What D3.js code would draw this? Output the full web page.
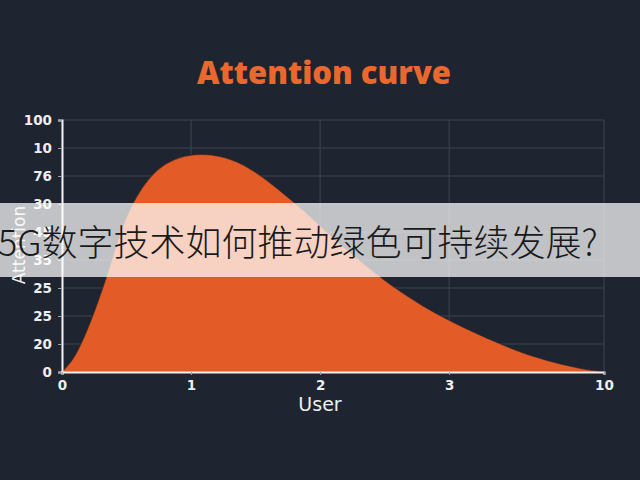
<!DOCTYPE html>
<html>
<head>
<meta charset="utf-8">
<script src="https://cdn.jsdelivr.net/npm/d3@7"></script>
<style>
  html, body { margin: 0; padding: 0; background: #1e2530; }
  svg { display: block; }
</style>
</head>
<body>
<svg id="chart"></svg>
<script>
// curve samples (x in axis units, y in 0..100)
const curveX = [0, 0.1, 0.2, 0.28, 0.36, 0.43, 0.5, 0.58, 0.67, 0.8, 0.95, 1.08, 1.22, 1.44, 1.69, 1.9, 2.06, 2.37, 2.57, 2.8, 3.0, 3.2, 3.4, 3.65, 3.87, 4.05, 4.2];
const curveY = [0, 5.5, 17, 28, 40, 52, 62, 70, 77, 83, 86, 86.5, 86, 82, 72, 63, 55, 41.5, 33.5, 26, 20.5, 15.5, 11, 6, 3, 1, 0];

// tick labels as printed on the picture
const xTickValues = [0, 1, 2, 3, 4.2];
const xTickLabels = ['0', '1', '2', '3', '10'];
const yTickLabels = ['0', '20', '25', '25', '35', '45', '30', '76', '10', '100'];

const titleText = 'Attention curve';
const xLabel = 'User';
const yLabel = 'Attention';
const bannerText = '5G数字技术如何推动绿色可持续发展?';

const width = 640, height = 480;
const margin = {top: 120, right: 36, bottom: 108, left: 62};
const innerW = width - margin.left - margin.right;
const innerH = height - margin.top - margin.bottom;

const svg = d3.select('#chart')
    .attr('width', width)
    .attr('height', height);

svg.append('rect')
    .attr('width', width)
    .attr('height', height)
    .attr('fill', '#1e2530');

svg.append('text')
    .attr('x', 324)
    .attr('y', 84)
    .attr('text-anchor', 'middle')
    .attr('font-family', 'Open Sans, sans-serif')
    .attr('font-weight', 800)
    .attr('font-size', 31)
    .attr('fill', '#ea672d')
    .text(titleText);

const chart = svg.append('g')
    .attr('transform', `translate(${margin.left}, ${margin.top})`);

const x = d3.scaleLinear().domain([0, 4.2]).range([0, innerW]);
const y = d3.scaleLinear().domain([0, 100]).range([innerH, 0]);
const yTickValues = yTickLabels.map((d, i) => i * 100 / (yTickLabels.length - 1));

// grid
chart.append('g')
    .selectAll('line')
    .data(yTickValues)
    .enter().append('line')
    .attr('x1', 0)
    .attr('x2', innerW)
    .attr('y1', d => y(d))
    .attr('y2', d => y(d))
    .attr('stroke', '#3b4553')
    .attr('stroke-width', 1);

chart.append('g')
    .selectAll('line')
    .data(xTickValues)
    .enter().append('line')
    .attr('x1', d => x(d))
    .attr('x2', d => x(d))
    .attr('y1', 0)
    .attr('y2', innerH)
    .attr('stroke', '#3b4553')
    .attr('stroke-width', 1);

// area
const points = curveX.map((d, i) => ({x: d, y: curveY[i]}));
const area = d3.area()
    .x(d => x(d.x))
    .y0(y(0))
    .y1(d => y(d.y))
    .curve(d3.curveBasis);

chart.append('path')
    .datum(points)
    .attr('d', area)
    .attr('fill', '#e35b27');

chart.append('path')
    .datum(points)
    .attr('d', d3.line().x(d => x(d.x)).y(d => y(d.y)).curve(d3.curveBasis))
    .attr('fill', 'none')
    .attr('stroke', '#2a2326')
    .attr('stroke-width', 1.2)
    .attr('stroke-opacity', 0.6);

// axes
const yAxis = d3.axisLeft(y)
    .tickValues(yTickValues)
    .tickFormat((d, i) => yTickLabels[i])
    .tickSize(4)
    .tickPadding(6);

const xAxis = d3.axisBottom(x)
    .tickValues(xTickValues)
    .tickFormat((d, i) => xTickLabels[i])
    .tickSize(3)
    .tickPadding(5);

const gy = chart.append('g').call(yAxis);
const gx = chart.append('g').attr('transform', `translate(0, ${innerH})`).call(xAxis);

[gx, gy].forEach(g => {
  g.select('.domain').attr('stroke', '#f2efee').attr('stroke-width', 2);
  g.selectAll('.tick line').attr('stroke', '#9aa1aa');
  g.selectAll('.tick text')
      .attr('fill', '#eceef0')
      .attr('font-family', 'DejaVu Sans, sans-serif')
      .attr('font-weight', 'bold')
      .attr('font-size', 13.5);
});

svg.append('text')
    .attr('x', 320)
    .attr('y', 411)
    .attr('text-anchor', 'middle')
    .attr('font-family', 'DejaVu Sans, sans-serif')
    .attr('font-size', 19)
    .attr('fill', '#eceef0')
    .text(xLabel);

svg.append('text')
    .attr('transform', 'translate(25, 245) rotate(-90)')
    .attr('text-anchor', 'middle')
    .attr('font-family', 'DejaVu Sans, sans-serif')
    .attr('font-size', 17)
    .attr('fill', '#eceef0')
    .text(yLabel);

// overlay banner
svg.append('rect')
    .attr('x', 0)
    .attr('y', 203)
    .attr('width', width)
    .attr('height', 74)
    .attr('fill', '#ffffff')
    .attr('fill-opacity', 0.72);

svg.append('text')
    .attr('x', -2)
    .attr('y', 256)
    .attr('font-family', 'Noto Sans CJK SC, sans-serif')
    .attr('font-weight', 300)
    .attr('font-size', 36)
    .attr('fill', '#1a1a1a')
    .text(bannerText);
</script>
</body>
</html>
